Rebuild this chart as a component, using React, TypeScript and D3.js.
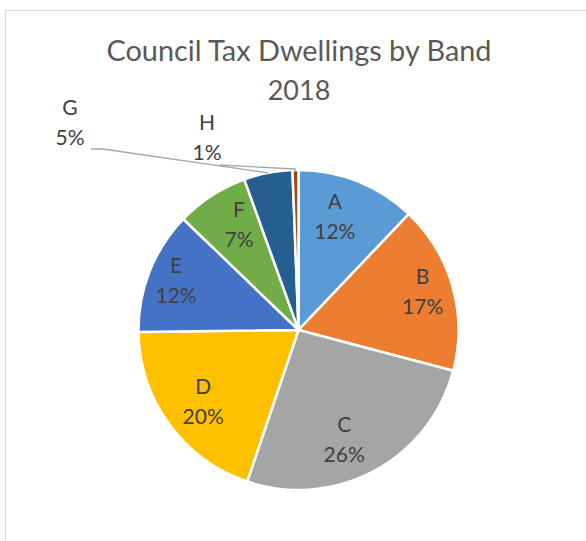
import React from "react";
import * as d3 from "d3";

const bands = ["A", "B", "C", "D", "E", "F", "G", "H"];
const shares = [12.1, 17.0, 26.1, 19.6, 12.4, 7.3, 4.9, 0.6];
const colors = ["#5B9BD5", "#ED7D31", "#A5A5A5", "#FFC000", "#4472C4", "#70AD47", "#255E91", "#9E480E"];
const titleLines = ["Council Tax Dwellings by Band", "2018"];

const W = 586;
const H = 541;
const CX = 298.5;
const CY = 330;
const R = 160;
const TITLE_X = 299;
// inside label placement: distance from centre and angular nudge (degrees)
const labelR = [119, 130, 119, 119, 132, 121];
const labelNudge = [-4, -1.4, 5.7, -0.8, 0.4, 3.5];
// outside labels (G, H) offsets from centre
const outside: Record<number, { dx: number; dy: number; line: [number, number][] }> = {
  6: { dx: -228.5, dy: -208, line: [[91, 149], [103, 149]] },
  7: { dx: -91.5, dy: -193, line: [[220, 165], [295, 169]] },
};

export default function App() {
  const total = d3.sum(shares);
  const pie = d3
    .pie<number>()
    .sort(null)
    .value((d) => d)
    .startAngle(0)
    .endAngle(2 * Math.PI);
  const arcs = pie(shares);
  const arc = d3.arc<d3.PieArcDatum<number>>().innerRadius(0).outerRadius(R);
  const font = "Lato, 'Open Sans', sans-serif";

  return (
    <svg
      width={W}
      height={H}
      style={{ position: "absolute", left: 0, top: 0, background: "#fff" }}
    >
      <rect x={5.5} y={10.5} width={W + 10} height={H + 10} fill="#fff" stroke="#d9d9d9" strokeWidth={1} />
      <text
        x={TITLE_X}
        y={61}
        textAnchor="middle"
        fontFamily={font}
        fontSize={28}
        fill="#595959"
        textLength={385}
        lengthAdjust="spacingAndGlyphs"
      >
        {titleLines[0]}
      </text>
      <text
        x={TITLE_X}
        y={100}
        textAnchor="middle"
        fontFamily={font}
        fontSize={27}
        fill="#595959"
      >
        {titleLines[1]}
      </text>
      <g transform={`translate(${CX},${CY})`}>
        {arcs.map((a, i) => (
          <path key={i} d={arc(a) || ""} fill={colors[i]} stroke="#fff" strokeWidth={2.5} strokeLinejoin="round" />
        ))}
      </g>
      {arcs.map((a, i) => {
        const pct = Math.round((a.value / total) * 100) + "%";
        const mid = (a.startAngle + a.endAngle) / 2;
        let lx: number, ly: number;
        let leader: React.ReactNode = null;
        if (outside[i]) {
          const o = outside[i];
          lx = CX + o.dx;
          ly = CY + o.dy;
          const ex = CX + Math.sin(mid) * R;
          const ey = CY - Math.cos(mid) * R;
          const pts = [...o.line, [ex, ey]] as [number, number][];
          if (i === 7) pts.push([ex, ey + 2]);
          leader = (
            <path
              d={d3.line()(pts) || ""}
              fill="none"
              stroke="#a6a6a6"
              strokeWidth={1.3}
            />
          );
        } else {
          const r = labelR[i];
          const ang = mid + (labelNudge[i] * Math.PI) / 180;
          lx = CX + Math.sin(ang) * r;
          ly = CY - Math.cos(ang) * r;
        }
        return (
          <g key={"l" + i}>
            {leader}
            <text x={lx} y={ly - 7.5} textAnchor="middle" fontFamily={font} fontSize={21} fill="#404040">
              {bands[i]}
            </text>
            <text x={lx} y={ly + 22.5} textAnchor="middle" fontFamily={font} fontSize={21} fill="#404040">
              {pct}
            </text>
          </g>
        );
      })}
    </svg>
  );
}
